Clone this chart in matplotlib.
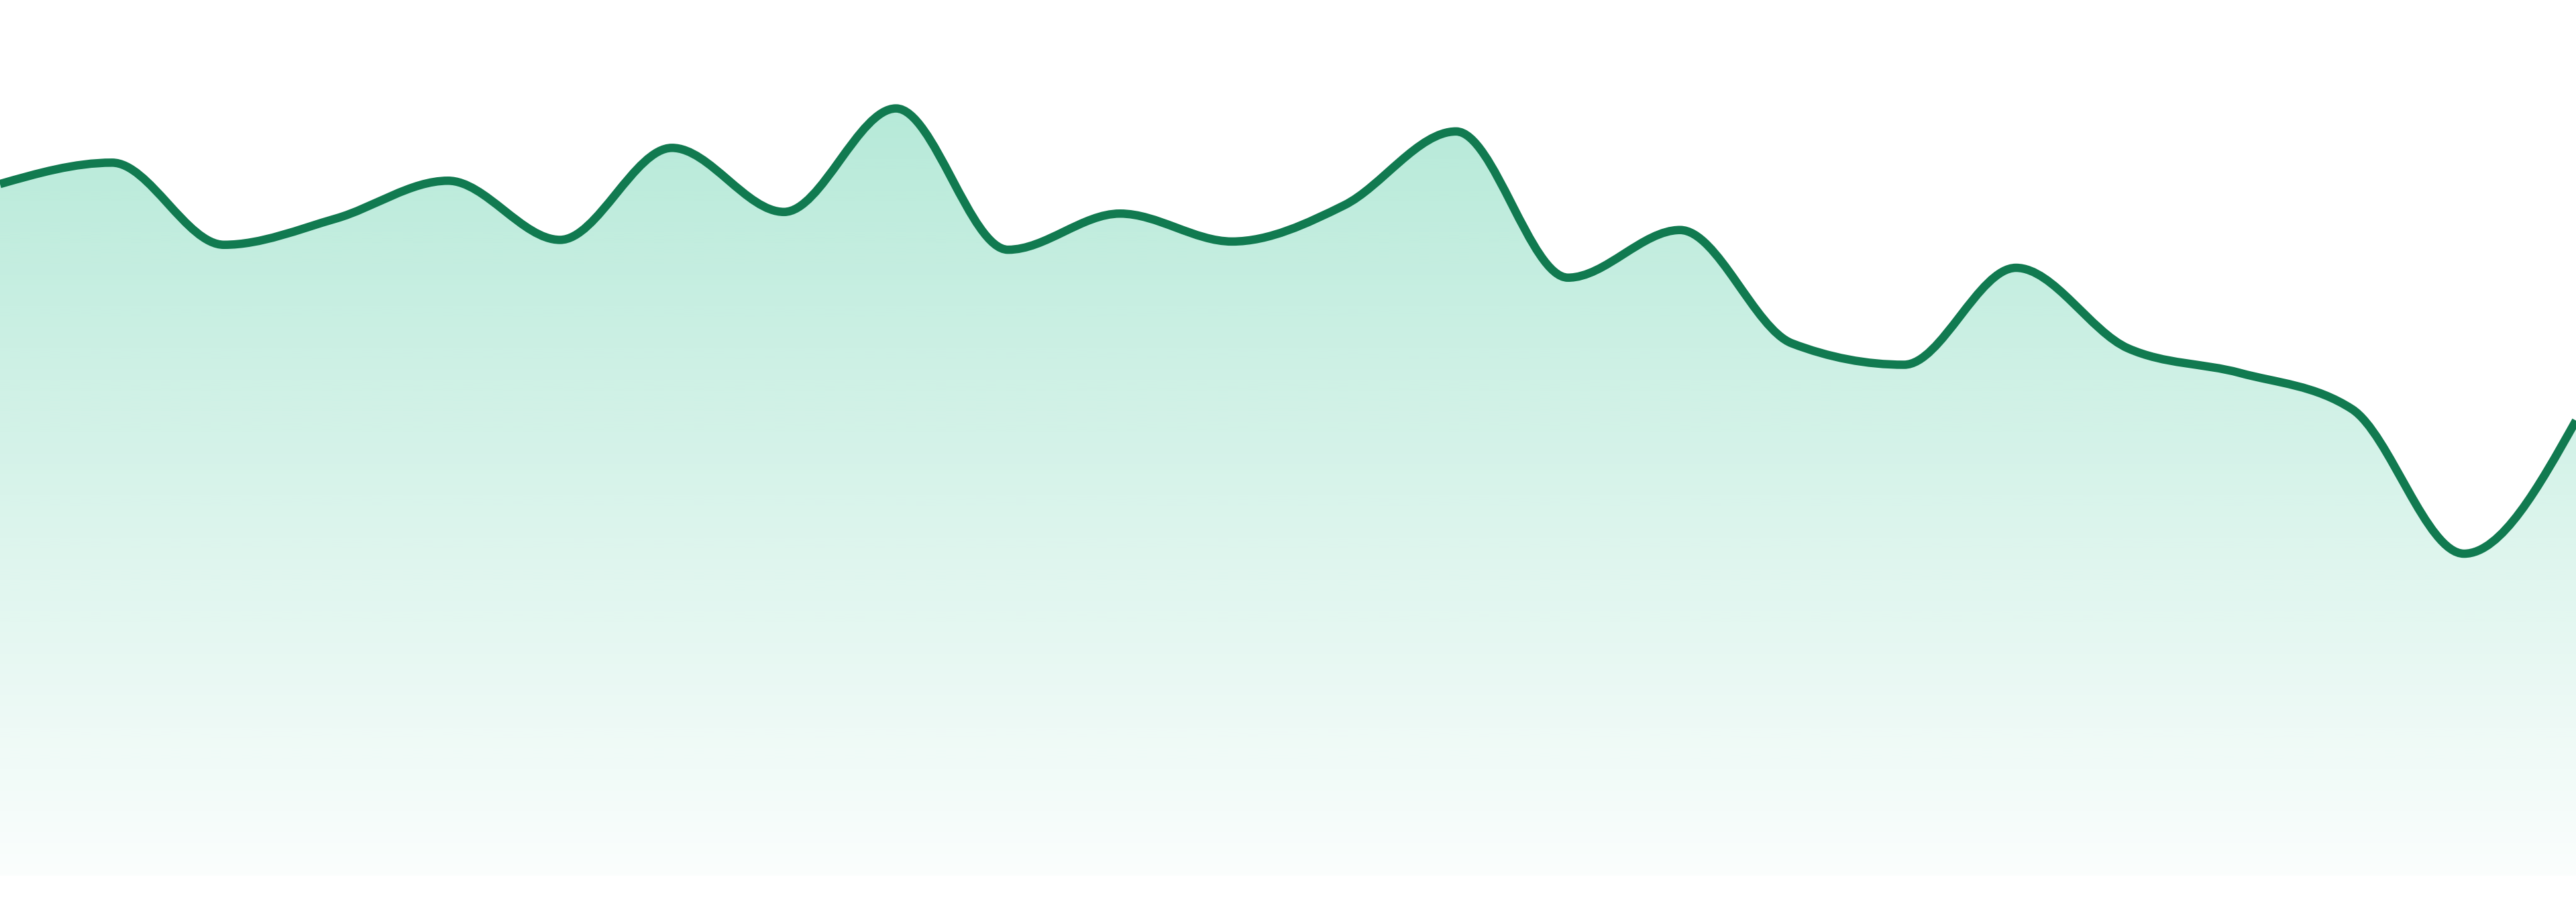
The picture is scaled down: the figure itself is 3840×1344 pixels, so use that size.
import numpy as np
import matplotlib
matplotlib.use("Agg")
from matplotlib import pyplot as plt
from matplotlib.path import Path
from matplotlib.patches import PathPatch
from matplotlib.colors import to_rgb

# daily values, 24 points
days = np.arange(24)
values = [421, 434, 384, 400, 423, 387, 443, 404, 467, 381, 403, 386,
          408, 453, 364, 393, 324, 311, 370, 321, 306, 284, 196, 277]

LINE_COLOR = "#117a50"
FILL_COLOR = "#10b981"


def monotone_tangents(x, y):
    """tangents like d3.curveMonotoneX"""
    n = len(x)
    t = np.zeros(n)
    for i in range(1, n - 1):
        h0 = x[i] - x[i - 1]
        h1 = x[i + 1] - x[i]
        s0 = (y[i] - y[i - 1]) / h0
        s1 = (y[i + 1] - y[i]) / h1
        p = (s0 * h1 + s1 * h0) / (h0 + h1)
        t[i] = (np.sign(s0) + np.sign(s1)) * min(abs(s0), abs(s1), 0.5 * abs(p))
    h = x[1] - x[0]
    t[0] = (3 * (y[1] - y[0]) / h - t[1]) / 2
    h = x[-1] - x[-2]
    t[-1] = (3 * (y[-1] - y[-2]) / h - t[-2]) / 2
    return t


def monotone_path(x, y):
    t = monotone_tangents(x, y)
    verts = [(x[0], y[0])]
    codes = [Path.MOVETO]
    for i in range(len(x) - 1):
        dx = (x[i + 1] - x[i]) / 3
        verts += [(x[i] + dx, y[i] + dx * t[i]),
                  (x[i + 1] - dx, y[i + 1] - dx * t[i + 1]),
                  (x[i + 1], y[i + 1])]
        codes += [Path.CURVE4] * 3
    return verts, codes


x = days.astype(float)
y = np.array(values, dtype=float)
verts, codes = monotone_path(x, y)

fig = plt.figure(figsize=(38.4, 13.44), dpi=100)
ax = fig.add_axes([0, 0, 1, 1])
ax.set_xlim(0, 23)
ax.set_ylim(-16, 533)
ax.axis("off")

# area under the curve, used as clip for the gradient
area_verts = verts + [(x[-1], 0), (x[0], 0), (x[0], y[0])]
area_codes = codes + [Path.LINETO, Path.LINETO, Path.CLOSEPOLY]
area = PathPatch(Path(area_verts, area_codes), facecolor="none", edgecolor="none")
ax.add_patch(area)

rgb = to_rgb(FILL_COLOR)
levels = np.linspace(0, 533, 400)
alpha = 0.345 * (levels + 32) / 565
grad = np.zeros((len(levels), 1, 4))
grad[:, 0, :3] = rgb
grad[:, 0, 3] = alpha
img = ax.imshow(grad, extent=[0, 23, 0, 533], origin="lower",
                aspect="auto", interpolation="bilinear", zorder=1)
img.set_clip_path(area)

line = PathPatch(Path(verts, codes), facecolor="none", edgecolor=LINE_COLOR,
                 linewidth=9, capstyle="butt", joinstyle="round", zorder=2)
ax.add_patch(line)

fig.savefig("out.png", dpi=100, facecolor="white")
